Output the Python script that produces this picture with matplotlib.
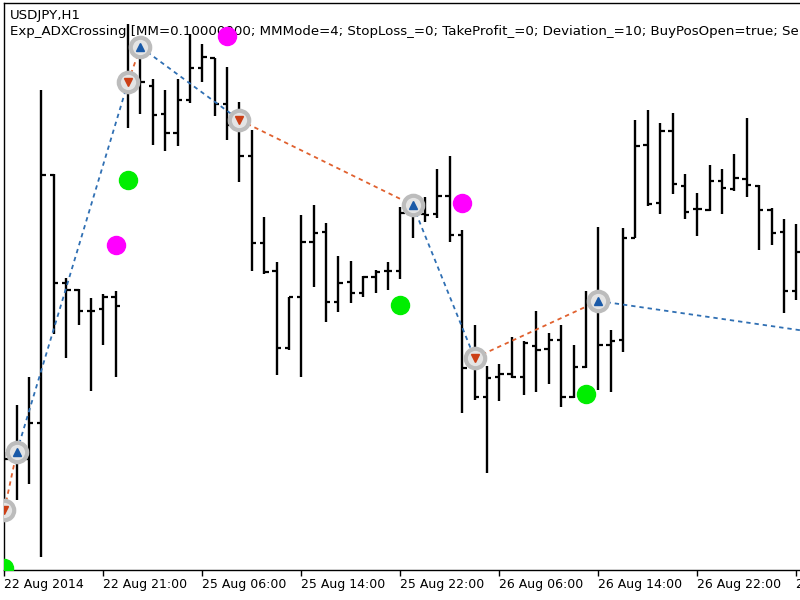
"""MT5 tester chart: USDJPY H1 bars with Exp_ADXCrossing deals and signals."""

import matplotlib

matplotlib.use("Agg")

import matplotlib.pyplot as plt

SYMBOL_TITLE = "USDJPY,H1"
EXPERT_TITLE = ("Exp_ADXCrossing [MM=0.10000000; MMMode=4; StopLoss_=0; "
                "TakeProfit_=0; Deviation_=10; BuyPosOpen=true; SellPosOpen=true; "
                "BuyPosClose=true; SellPosClose=true]")

# hourly OHLC
opens = [103.890, 103.941, 103.941, 103.977, 104.225, 104.117, 104.110, 104.089,
         104.091, 104.103, 104.318, 104.353, 104.314, 104.286, 104.267, 104.300,
         104.332, 104.342, 104.296, 104.280, 104.244, 104.157, 104.129, 104.052,
         104.103, 104.158, 104.168, 104.098, 104.118, 104.107, 104.123, 104.129,
         104.129, 104.195, 104.186, 104.186, 104.204, 104.165, 104.042, 104.003,
         104.023, 104.026, 104.023, 104.054, 104.051, 104.060, 104.003, 104.033,
         104.098, 104.055, 104.060, 104.162, 104.255, 104.197, 104.269, 104.214,
         104.191, 104.190, 104.219, 104.211, 104.221, 104.214, 104.190, 104.168,
         104.109]
highs = [103.948, 103.995, 104.023, 104.310, 104.226, 104.122, 104.111, 104.102,
         104.106, 104.109, 104.376, 104.360, 104.321, 104.310, 104.321, 104.366,
         104.356, 104.342, 104.333, 104.298, 104.270, 104.183, 104.138, 104.103,
         104.185, 104.195, 104.177, 104.144, 104.139, 104.124, 104.130, 104.138,
         104.193, 104.206, 104.203, 104.231, 104.244, 104.170, 104.075, 104.034,
         104.036, 104.063, 104.059, 104.089, 104.067, 104.075, 104.055, 104.109,
         104.173, 104.070, 104.172, 104.280, 104.290, 104.277, 104.287, 104.226,
         104.207, 104.235, 104.231, 104.246, 104.282, 104.215, 104.192, 104.181,
         104.176]
lows = [103.880, 103.900, 103.916, 103.843, 104.066, 104.042, 104.075, 104.009,
        104.055, 104.023, 104.272, 104.286, 104.255, 104.249, 104.254, 104.297,
        104.318, 104.284, 104.260, 104.218, 104.129, 104.126, 104.025, 104.050,
        104.023, 104.113, 104.078, 104.088, 104.097, 104.103, 104.107, 104.110,
        104.121, 104.162, 104.178, 104.182, 104.158, 103.987, 104.000, 103.927,
        103.999, 104.022, 104.005, 104.008, 104.016, 103.993, 104.002, 104.032,
        104.010, 104.008, 104.048, 104.162, 104.194, 104.186, 104.206, 104.181,
        104.164, 104.189, 104.186, 104.209, 104.203, 104.150, 104.155, 104.087,
        104.100]
closes = [103.941, 103.942, 103.977, 104.225, 104.117, 104.110, 104.089, 104.089,
          104.103, 104.094, 104.353, 104.318, 104.285, 104.267, 104.300, 104.332,
          104.343, 104.296, 104.275, 104.244, 104.157, 104.128, 104.052, 104.103,
          104.158, 104.167, 104.098, 104.117, 104.107, 104.123, 104.128, 104.129,
          104.187, 104.188, 104.185, 104.204, 104.165, 104.032, 104.003, 104.022,
          104.026, 104.023, 104.057, 104.050, 104.060, 104.003, 104.033, 104.098,
          104.055, 104.059, 104.162, 104.254, 104.196, 104.269, 104.216, 104.188,
          104.191, 104.219, 104.212, 104.222, 104.215, 104.190, 104.167, 104.109,
          104.148]

tick_bars = [0, 8, 16, 24, 32, 40, 48, 56, 64]
tick_labels = ["22 Aug 2014", "22 Aug 21:00", "25 Aug 06:00", "25 Aug 14:00",
               "25 Aug 22:00", "26 Aug 06:00", "26 Aug 14:00", "26 Aug 22:00",
               "27 Aug 06:00"]

# tester deals; the last position closes beyond the right edge
deal_bars = [0, 1, 10, 11, 19, 33, 38, 48]
deal_prices = [103.890, 103.948, 104.318, 104.353, 104.280, 104.195, 104.042, 104.099]
deal_types = ["sell", "buy", "sell", "buy", "sell", "buy", "sell", "buy"]
exit_bar = 72
exit_price = 104.056

# ADX crossing signals
up_signal_bars = [0, 10, 32, 47]
up_signal_prices = [103.832, 104.220, 104.095, 104.006]
down_signal_bars = [9, 18, 37]
down_signal_prices = [104.155, 104.364, 104.197]

fig = plt.figure(figsize=(8, 6), dpi=100)
ax = fig.add_axes([4 / 800, 30 / 600, 796 / 800, 567 / 600])

x = list(range(len(opens)))
half = 0.35
ax.vlines(x, lows, highs, color="black", lw=1.7, zorder=2)
ax.hlines(opens, [i - half for i in x], x, color="black", lw=1.6, zorder=2)
ax.hlines(closes, x, [i + half for i in x], color="black", lw=1.6, zorder=2)

line_colors = {"buy": "#2f6fb3", "sell": "#e0602e"}
arrow_colors = {"buy": "#1a5aa8", "sell": "#cc3f16"}
ends_x = deal_bars[1:] + [exit_bar]
ends_y = deal_prices[1:] + [exit_price]
for bx, by, ex, ey, kind in zip(deal_bars, deal_prices, ends_x, ends_y, deal_types):
    ax.plot([bx, ex], [by, ey], color=line_colors[kind], lw=1.3,
            linestyle=(0, (2.4, 2.2)), zorder=3)

ax.plot(deal_bars, deal_prices, "o", ms=14, mfc="#e4e4e4", mec="#bcbcbc",
        mew=3, zorder=4)
for bx, by, kind in zip(deal_bars, deal_prices, deal_types):
    ax.plot(bx, by, "^" if kind == "buy" else "v", ms=6,
            color=arrow_colors[kind], zorder=5)

ax.plot(up_signal_bars, up_signal_prices, "o", ms=13, color="#00ee00",
        mec="#00ee00", zorder=6)
ax.plot(down_signal_bars, down_signal_prices, "o", ms=13, color="#ff00ff",
        mec="#ff00ff", zorder=6)

ax.text(10 / 800, 1 - 15 / 600, SYMBOL_TITLE, transform=fig.transFigure,
        fontsize=9.6, va="center", ha="left", zorder=1, clip_on=False)
ax.text(10 / 800, 1 - 31 / 600, EXPERT_TITLE, transform=fig.transFigure,
        fontsize=9.6, va="center", ha="left", zorder=1, clip_on=False)

ax.set_xlim(-0.03, 64.3)
ax.set_ylim(103.830, 104.397)
ax.set_xticks(tick_bars)
ax.set_xticklabels(tick_labels, ha="left", fontsize=9)
ax.tick_params(axis="x", direction="out", length=4, width=1, pad=2)
ax.set_yticks([])
ax.spines["right"].set_visible(False)
for side in ("top", "left", "bottom"):
    ax.spines[side].set_linewidth(1)

fig.savefig("out.png", dpi=100)
